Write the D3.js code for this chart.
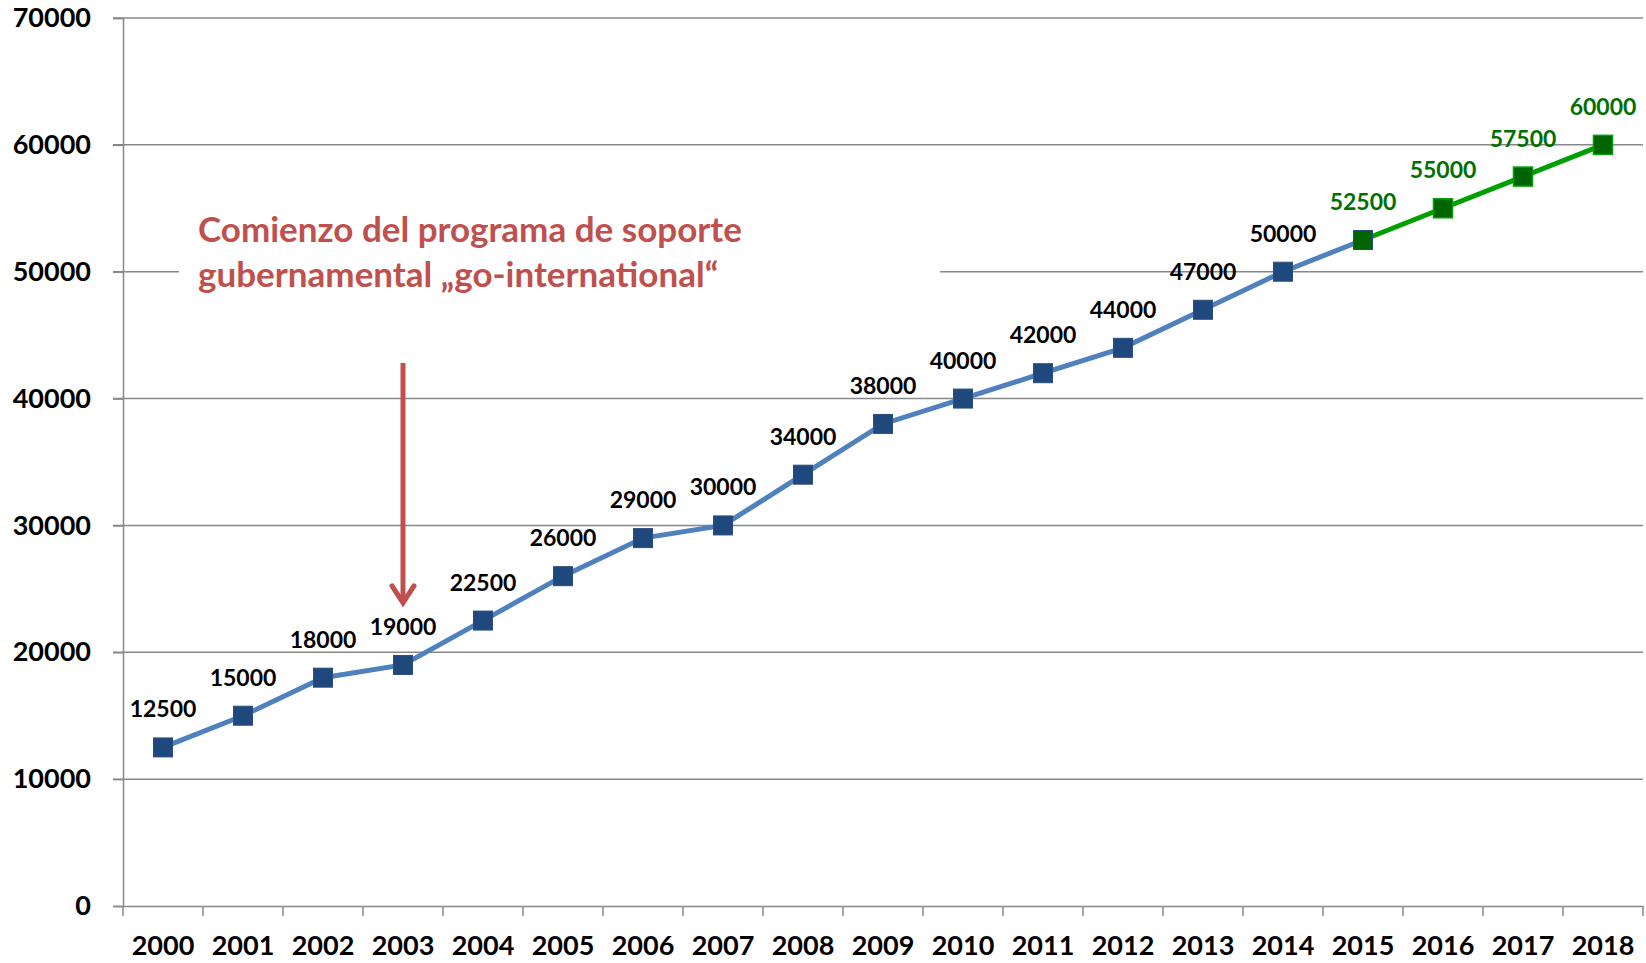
<!DOCTYPE html>
<html>
<head>
<meta charset="utf-8">
<script src="https://cdn.jsdelivr.net/npm/d3@7"></script>
<style>
  body { margin: 0; background: #fff; }
  text { font-family: Lato, "Open Sans", sans-serif; font-weight: bold; }
</style>
</head>
<body>
<div id="chart"></div>
<script>
var years = ["2000","2001","2002","2003","2004","2005","2006","2007","2008","2009",
             "2010","2011","2012","2013","2014","2015","2016","2017","2018"];
var blueYears = ["2000","2001","2002","2003","2004","2005","2006","2007","2008","2009",
                 "2010","2011","2012","2013","2014","2015"];
var blueValues = [12500,15000,18000,19000,22500,26000,29000,30000,34000,38000,
                  40000,42000,44000,47000,50000,52500];
var greenYears = ["2015","2016","2017","2018"];
var greenValues = [52500,55000,57500,60000];
var yTicks = [0,10000,20000,30000,40000,50000,60000,70000];
var noteLines = ["Comienzo del programa de soporte", "gubernamental \u201ego-international\u201c"];

var W = 1646, H = 963;
var margin = {top: 18, right: 3, bottom: 57, left: 123};

var svg = d3.select("#chart").append("svg")
  .attr("width", W)
  .attr("height", H);

var x = d3.scaleBand()
  .domain(years)
  .range([margin.left, W - margin.right]);

var y = d3.scaleLinear()
  .domain([0, 70000])
  .range([H - margin.bottom, margin.top]);

var grey = "#888888";

// gridlines
svg.append("g")
  .selectAll("line")
  .data(yTicks.slice(1))
  .enter().append("line")
  .attr("x1", margin.left - 10)
  .attr("x2", W - margin.right)
  .attr("y1", d => y(d))
  .attr("y2", d => y(d))
  .attr("stroke", grey)
  .attr("stroke-width", 1.5);

// white box behind the note
svg.append("rect")
  .attr("x", 179)
  .attr("y", 195)
  .attr("width", 761)
  .attr("height", 105)
  .attr("fill", "#fff");

// y axis
var yAxis = svg.append("g")
  .attr("transform", "translate(" + margin.left + ",0)")
  .call(d3.axisLeft(y).tickValues(yTicks).tickSize(10).tickPadding(22).tickFormat(d3.format("d")));
yAxis.select(".domain").attr("stroke", grey).attr("stroke-width", 1.5);
yAxis.selectAll(".tick line").attr("stroke", grey).attr("stroke-width", 1.5);
yAxis.selectAll(".tick text")
  .attr("font-size", 27)
  .attr("fill", "#000")
  .style("font-family", "Lato, sans-serif")
  .style("font-weight", "bold");

// x axis
var xAxis = svg.append("g")
  .attr("transform", "translate(0," + (H - margin.bottom) + ")")
  .call(d3.axisBottom(x).tickSize(0).tickPadding(30));
xAxis.select(".domain").attr("stroke", grey).attr("stroke-width", 1.5);
xAxis.selectAll(".tick text")
  .attr("font-size", 27)
  .attr("fill", "#000")
  .style("font-family", "Lato, sans-serif")
  .style("font-weight", "bold");
// category boundary ticks
xAxis.selectAll(".sep")
  .data(years.concat(["end"]))
  .enter().append("line")
  .attr("class", "sep")
  .attr("x1", (d, i) => margin.left + i * x.step())
  .attr("x2", (d, i) => margin.left + i * x.step())
  .attr("y1", 0)
  .attr("y2", 10)
  .attr("stroke", grey)
  .attr("stroke-width", 1.5);

var cx = d => x(d) + x.bandwidth() / 2;

var line = d3.line()
  .x(d => cx(d[0]))
  .y(d => y(d[1]));

var blueData = blueYears.map((d, i) => [d, blueValues[i]]);
var greenData = greenYears.map((d, i) => [d, greenValues[i]]);

svg.append("path")
  .datum(blueData)
  .attr("d", line)
  .attr("fill", "none")
  .attr("stroke", "#4f81bd")
  .attr("stroke-width", 5);

svg.append("path")
  .datum(greenData)
  .attr("d", line)
  .attr("fill", "none")
  .attr("stroke", "#00a000")
  .attr("stroke-width", 5);

var ms = 19;
svg.append("g").selectAll("rect")
  .data(blueData)
  .enter().append("rect")
  .attr("x", d => cx(d[0]) - ms / 2)
  .attr("y", d => y(d[1]) - ms / 2)
  .attr("width", ms)
  .attr("height", ms)
  .attr("fill", (d, i) => i === blueData.length - 1 ? "#006400" : "#1f497d")
  .attr("stroke", "#2c4d80")
  .attr("stroke-width", 1);

svg.append("g").selectAll("rect")
  .data(greenData.slice(1))
  .enter().append("rect")
  .attr("x", d => cx(d[0]) - ms / 2)
  .attr("y", d => y(d[1]) - ms / 2)
  .attr("width", ms)
  .attr("height", ms)
  .attr("fill", "#006400")
  .attr("stroke", "#00a000")
  .attr("stroke-width", 1.5);

// data labels
svg.append("g").selectAll("text")
  .data(blueData.slice(0, -1))
  .enter().append("text")
  .attr("x", d => cx(d[0]))
  .attr("y", d => y(d[1]) - 30)
  .attr("text-anchor", "middle")
  .attr("font-size", 23)
  .attr("fill", "#000")
  .text(d => d[1]);

svg.append("g").selectAll("text")
  .data(greenData)
  .enter().append("text")
  .attr("x", d => cx(d[0]))
  .attr("y", d => y(d[1]) - 30)
  .attr("text-anchor", "middle")
  .attr("font-size", 23)
  .attr("fill", "#007000")
  .text(d => d[1]);

// annotation
var red = "#c0504d";
svg.append("g").selectAll("text")
  .data(noteLines)
  .enter().append("text")
  .attr("x", 198)
  .attr("y", (d, i) => 242 + i * 45)
  .attr("font-size", 35)
  .attr("fill", red)
  .text(d => d);

var ax = cx("2003");
var aTop = y(42800), aBot = y(23900);
svg.append("line")
  .attr("x1", ax).attr("x2", ax)
  .attr("y1", aTop).attr("y2", aBot - 2)
  .attr("stroke", red)
  .attr("stroke-width", 5);
svg.append("path")
  .attr("d", "M" + (ax - 11) + "," + (aBot - 17) + "L" + ax + "," + aBot + "L" + (ax + 11) + "," + (aBot - 17))
  .attr("fill", "none")
  .attr("stroke", red)
  .attr("stroke-width", 5)
  .attr("stroke-linecap", "round");
</script>
</body>
</html>
